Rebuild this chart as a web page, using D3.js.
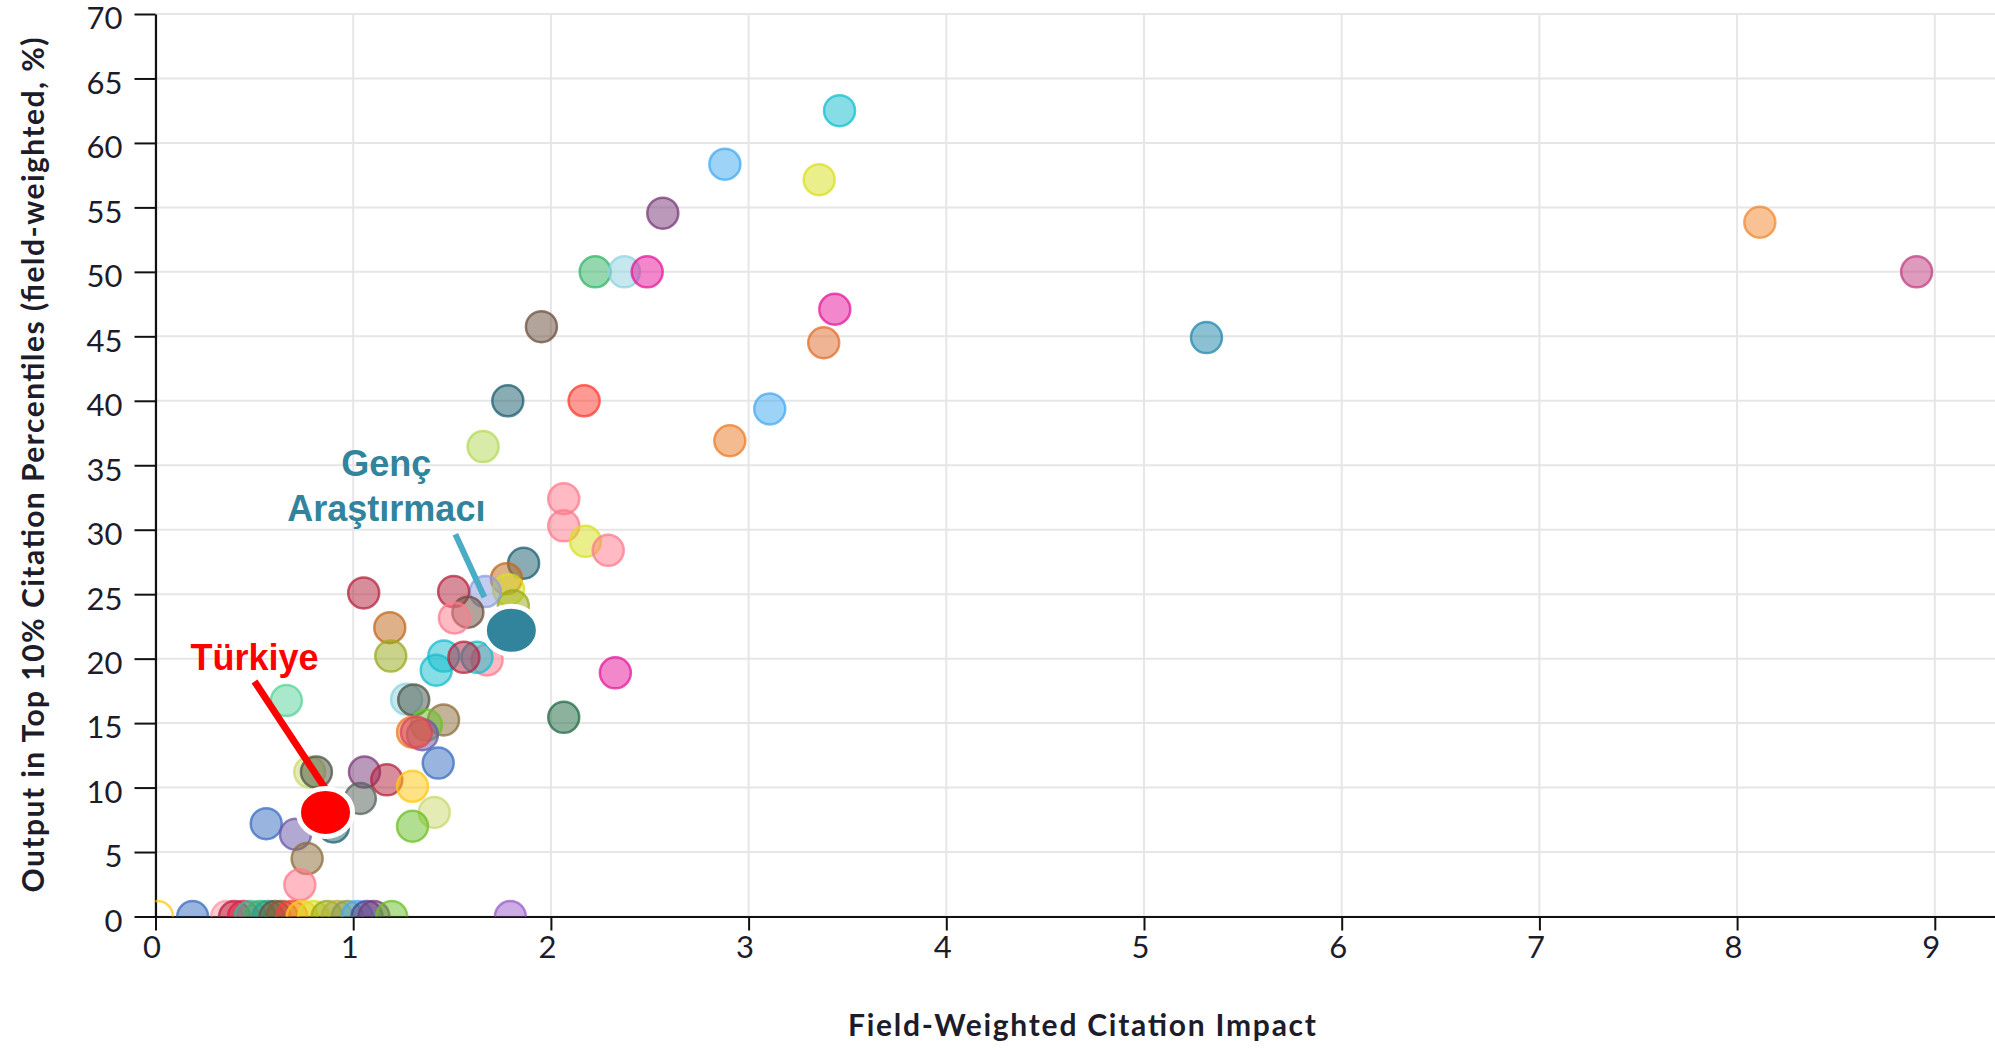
<!DOCTYPE html>
<html>
<head>
<meta charset="utf-8">
<script src="https://cdn.jsdelivr.net/npm/d3@7"></script>
<style>
  body { margin: 0; background: #fff; }
  svg { display: block; }
</style>
</head>
<body>
<div id="chart"></div>
<script>
// Field-weighted citation impact (x) and share of output in top 10% (y)
const fwci = [
    3.46, 2.88, 3.357, 2.566, 8.115, 8.908, 2.224, 2.372, 2.487, 3.436,
    3.38, 5.316, 1.952, 1.782, 2.168, 3.107, 2.905, 1.657, 2.065, 2.065,
    2.175, 2.29, 1.862, 1.775, 1.786, 1.81, 1.668, 1.508, 1.053, 1.58,
    1.512, 1.185, 1.19, 1.458, 1.42, 1.677, 1.626, 1.56, 2.326, 0.662,
    1.27, 1.306, 2.065, 1.457, 1.37, 1.35, 1.30, 1.32, 1.43, 0.78,
    0.814, 1.057, 1.17, 1.30, 1.036, 1.41, 0.90, 0.56, 1.30, 0.708,
    0.767, 0.73,
    0.01, 0.188, 0.36, 0.40, 0.445, 0.48, 0.53, 0.57, 0.605, 0.64,
    0.69, 0.742, 0.80, 0.868, 0.919, 0.97, 1.02, 1.07, 1.105, 1.195,
    1.795
];
const top10 = [
    62.5, 58.35, 57.15, 54.55, 53.85, 50.0, 50.0, 50.0, 50.0, 47.1,
    44.5, 44.9, 45.75, 40.0, 40.0, 39.37, 36.9, 36.45, 32.4, 30.3,
    29.1, 28.4, 27.4, 26.2, 25.35, 24.1, 25.2, 25.2, 25.1, 23.6,
    23.15, 22.4, 20.2, 20.2, 19.1, 19.9, 20.1, 20.1, 18.9, 16.75,
    16.85, 16.8, 15.45, 15.25, 14.85, 14.1, 14.3, 14.3, 11.9, 11.2,
    11.2, 11.2, 10.6, 10.1, 9.15, 8.07, 6.95, 7.2, 7.0, 6.38,
    4.49, 2.46,
    0, 0, 0, 0, 0, 0, 0, 0, 0, 0,
    0, 0, 0, 0, 0, 0, 0, 0, 0, 0,
    0
];
// colour of each point, same order as above
const pointColors = [
    "#17becf", "#45aaf2", "#d9e021", "#7a3b7a", "#f28b32", "#c23f82", "#33b566", "#8fd3e0", "#e6199b", "#e6199b",
    "#e07030", "#2389ad", "#6e5040", "#1f5f70", "#ff3b30", "#45aaf2", "#ec7d2a", "#b5d95a", "#ff7b8c", "#ff7b8c",
    "#d9e021", "#ff7b8c", "#1f5f70", "#c26a1c", "#d9e021", "#9aab1f", "#8e9ee0", "#b5243f", "#b5243f", "#6e5040",
    "#ff7b8c", "#c26a1c", "#9aab1f", "#17becf", "#17becf", "#ff7b8c", "#17becf", "#b5243f", "#e6199b", "#5cd39b",
    "#8fd3e0", "#4d5445", "#236b45", "#8c6d3c", "#6cc02c", "#6b5aaa", "#ec7d2a", "#d9475f", "#3b6fc0", "#ccd870",
    "#4d5445", "#7a3b7a", "#b5243f", "#ffc814", "#56645c", "#ccd870", "#1f5f70", "#3b6fc0", "#6cc02c", "#6b5aaa",
    "#8c6d3c", "#ff7b8c",
    "#ffc814", "#3b6fc0", "#ff9aa6", "#b5243f", "#e0204a", "#3cb89a", "#33b566", "#2a9d8f", "#6e5040", "#8c5a30",
    "#ff3b30", "#ffc814", "#d9e021", "#9aab1f", "#b0b040", "#8a9a50", "#45aaf2", "#4a4a90", "#7a3b7a", "#6cc02c",
    "#9b5fcb"
];

const highlights = [
    { name: "Türkiye", fwci: 0.86, top10: 8.07 },
    { name: "Genç Araştırmacı", fwci: 1.80, top10: 22.2 }
];

const xTicks = d3.range(0, 10);
const yTicks = d3.range(0, 71, 5);

const data = fwci.map((v, i) => ({ fwci: v, top10: top10[i], i }));

const width = 1995, height = 1051;
const margin = { top: 14, right: 0, bottom: 134.5, left: 155.5 };
const innerW = width - margin.left - margin.right;
const innerH = height - margin.top - margin.bottom;

const svg = d3.select("#chart")
    .append("svg")
    .attr("width", width)
    .attr("height", height)
    .style("background", "#fff");

const g = svg.append("g")
    .attr("transform", `translate(${margin.left},${margin.top})`);

const x = d3.scaleLinear()
    .domain([0, innerW / 197.7])
    .range([0, innerW]);

const y = d3.scaleLinear()
    .domain([0, 70])
    .range([innerH, 0]);

const color = d3.scaleOrdinal()
    .domain(d3.range(pointColors.length))
    .range(pointColors);

// grid
g.append("g")
    .selectAll("line.hgrid")
    .data(yTicks)
    .enter()
    .append("line")
    .attr("class", "hgrid")
    .attr("x1", 0)
    .attr("x2", innerW)
    .attr("y1", d => y(d))
    .attr("y2", d => y(d))
    .attr("stroke", "#e6e6e6")
    .attr("stroke-width", 2);

g.append("g")
    .selectAll("line.vgrid")
    .data(xTicks)
    .enter()
    .append("line")
    .attr("class", "vgrid")
    .attr("x1", d => x(d))
    .attr("x2", d => x(d))
    .attr("y1", 0)
    .attr("y2", innerH)
    .attr("stroke", "#e6e6e6")
    .attr("stroke-width", 2);

// axes
const tickFont = "Lato, 'Open Sans', sans-serif";

const yAxis = g.append("g")
    .call(d3.axisLeft(y).tickValues(yTicks).tickSize(21).tickSizeOuter(0).tickPadding(12));

const xAxis = g.append("g")
    .attr("transform", `translate(0,${innerH})`)
    .call(d3.axisBottom(x).tickValues(xTicks).tickSize(14).tickSizeOuter(0).tickPadding(5));

[xAxis, yAxis].forEach(ax => {
    ax.select(".domain").attr("stroke", "#111").attr("stroke-width", 2.2);
    ax.selectAll(".tick line").attr("stroke", "#111").attr("stroke-width", 2);
    ax.selectAll(".tick text")
        .style("font-family", tickFont)
        .style("font-size", "31px")
        .attr("fill", "#1c1c2a");
});
xAxis.selectAll(".tick text").attr("dx", -4);
yAxis.selectAll(".tick text").attr("dy", "0.48em");

// points
svg.append("defs")
    .append("clipPath")
    .attr("id", "plot-clip")
    .append("rect")
    .attr("x", 0)
    .attr("y", -20)
    .attr("width", innerW)
    .attr("height", innerH + 20);

const points = g.append("g")
    .attr("clip-path", "url(#plot-clip)");

points.selectAll("circle")
    .data(data)
    .enter()
    .append("circle")
    .attr("cx", d => x(d.fwci))
    .attr("cy", d => y(d.top10))
    .attr("r", 15.5)
    .attr("fill", d => d.i === 62 ? "#fff" : color(d.i))
    .attr("fill-opacity", d => d.i === 62 ? 0 : 0.52)
    .attr("stroke", d => color(d.i))
    .attr("stroke-opacity", 0.75)
    .attr("stroke-width", 2.5);

// annotations
const tr = highlights[0], gen = highlights[1];
const trX = x(tr.fwci), trY = y(tr.top10);
const genX = x(gen.fwci), genY = y(gen.top10);

g.append("line")
    .attr("x1", trX - 71)
    .attr("y1", trY - 131)
    .attr("x2", trX + 1)
    .attr("y2", trY - 22)
    .attr("stroke", "#ff0000")
    .attr("stroke-width", 7);

g.append("line")
    .attr("x1", genX - 56)
    .attr("y1", genY - 96)
    .attr("x2", genX - 27)
    .attr("y2", genY - 33)
    .attr("stroke", "#4bacc6")
    .attr("stroke-width", 6);

g.append("ellipse")
    .attr("cx", trX)
    .attr("cy", trY)
    .attr("rx", 27)
    .attr("ry", 24)
    .attr("fill", "#ff0000")
    .attr("stroke", "#fff")
    .attr("stroke-width", 5);

g.append("ellipse")
    .attr("cx", genX)
    .attr("cy", genY)
    .attr("rx", 27)
    .attr("ry", 24)
    .attr("fill", "#31849b")
    .attr("stroke", "#fff")
    .attr("stroke-width", 5);

const labelFont = "'Liberation Sans', Arial, sans-serif";

g.append("text")
    .attr("x", trX - 71)
    .attr("y", trY - 142)
    .attr("text-anchor", "middle")
    .style("font-family", labelFont)
    .style("font-weight", "bold")
    .style("font-size", "36px")
    .attr("fill", "#ff0000")
    .text("Türkiye");

const genLabel = g.append("text")
    .attr("text-anchor", "middle")
    .style("font-family", labelFont)
    .style("font-weight", "bold")
    .style("font-size", "36px")
    .attr("fill", "#31849b");

genLabel.append("tspan")
    .attr("x", genX - 125)
    .attr("y", genY - 154)
    .text("Genç");

genLabel.append("tspan")
    .attr("x", genX - 125)
    .attr("y", genY - 109)
    .text("Araştırmacı");

// axis titles
const titleFont = "Lato, 'Noto Sans', sans-serif";

svg.append("text")
    .attr("x", 1082)
    .attr("y", 1036)
    .attr("text-anchor", "middle")
    .attr("textLength", 468)
    .attr("lengthAdjust", "spacing")
    .style("font-family", titleFont)
    .style("font-weight", "bold")
    .style("font-size", "30px")
    .attr("fill", "#1c1c2a")
    .text("Field-Weighted Citation Impact");

svg.append("text")
    .attr("transform", "translate(44,465) rotate(-90)")
    .attr("text-anchor", "middle")
    .attr("textLength", 855)
    .attr("lengthAdjust", "spacing")
    .style("font-family", titleFont)
    .style("font-weight", "bold")
    .style("font-size", "30px")
    .attr("fill", "#1c1c2a")
    .text("Output in Top 10% Citation Percentiles (field-weighted, %)");
</script>
</body>
</html>
